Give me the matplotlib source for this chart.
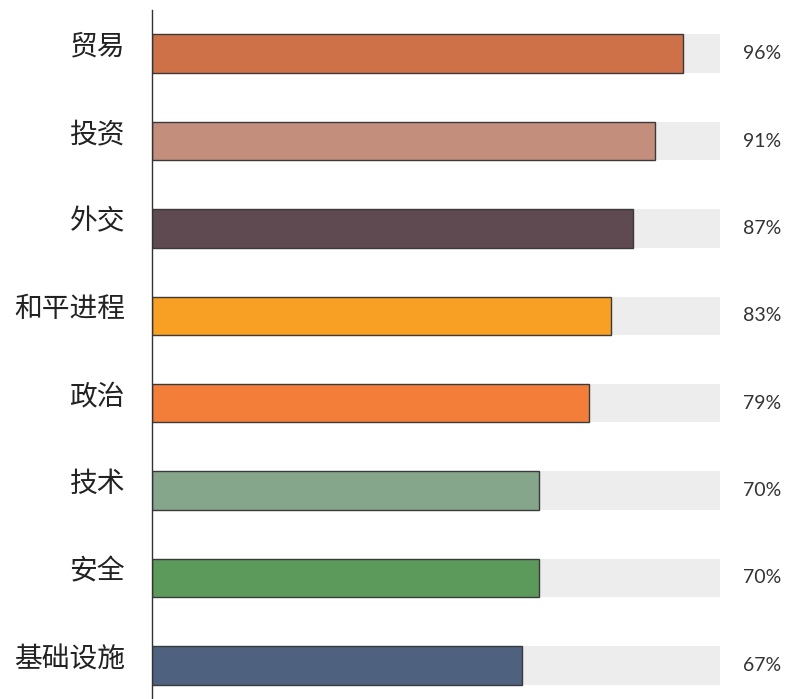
import matplotlib
matplotlib.use("Agg")
import matplotlib.pyplot as plt

categories = ["贸易", "投资", "外交", "和平进程", "政治", "技术", "安全", "基础设施"]
values = [96, 91, 87, 83, 79, 70, 70, 67]
labels = ["96%", "91%", "87%", "83%", "79%", "70%", "70%", "67%"]
colors = ["#CE7148", "#C48E7C", "#5E4A50", "#F8A023", "#F37E3A", "#86A68C", "#5C9A5C", "#4E617E"]

plt.rcParams['font.family'] = ['Noto Sans CJK SC', 'DejaVu Sans']

fig = plt.figure(figsize=(7.85, 6.99), dpi=100)
ax = fig.add_axes([152/785, -10/699, (720-152)/785, 699/699])

xmax = max(values) * 1.07
ypos = list(range(len(categories)))
ax.barh(ypos, [xmax]*len(values), height=0.44, color="#EDEDED", zorder=1)
ax.barh(ypos, values, height=0.44, color=colors, edgecolor="#3a3a3a", linewidth=1, zorder=2)

ax.set_xlim(0, xmax)
ax.set_ylim(len(categories)-0.5, -0.5)
ax.set_yticks([])
ax.set_xticks([])
for s in ["top", "right", "bottom"]:
    ax.spines[s].set_visible(False)
ax.spines["left"].set_color("#333333")
ax.spines["left"].set_linewidth(1)

px = 72 / 100.0
for y, cat in zip(ypos, categories):
    ax.annotate(cat, xy=(0, y), xycoords="data", xytext=(-27*px, 7*px), textcoords="offset points",
                ha="right", va="center", fontsize=20, color="#222222")

for y, lab in zip(ypos, labels):
    ax.annotate(lab, xy=(xmax, y), xycoords="data", xytext=(61*px, 0), textcoords="offset points",
                ha="right", va="center", fontsize=14, color="#333333", family=["Lato", "DejaVu Sans"])

fig.savefig("out.png", dpi=100, facecolor="white")
